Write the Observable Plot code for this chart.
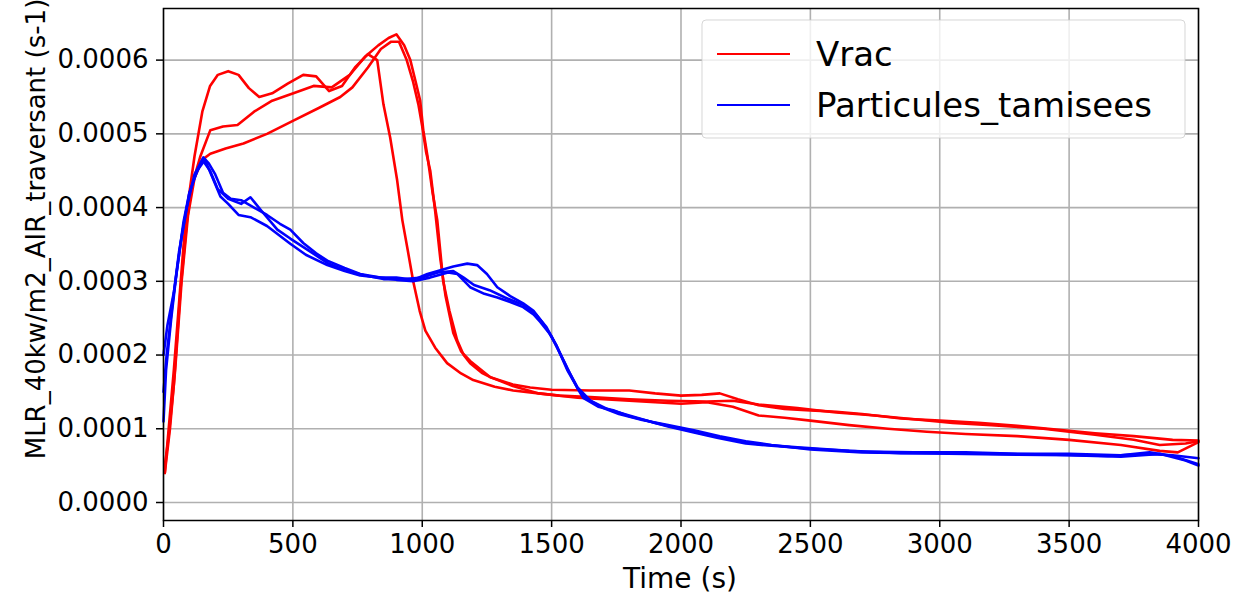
<!DOCTYPE html>
<html><head><meta charset="utf-8">
<script src="https://cdn.jsdelivr.net/npm/d3@7"></script>
<script src="https://cdn.jsdelivr.net/npm/@observablehq/plot@0.6"></script>
<style>body{margin:0;background:#fff} #chart{width:1246px;height:600px}</style>
</head><body><div id="chart"></div>
<script>
const xTicks = [0, 500, 1000, 1500, 2000, 2500, 3000, 3500, 4000];
const yTicks = [0, 0.0001, 0.0002, 0.0003, 0.0004, 0.0005, 0.0006];
const seriesNames = ["Vrac", "Particules_tamisees"];
const xLabel = "Time (s)";
const yLabel = "MLR_40kw/m2_AIR_traversant (s-1)";

// Vrac runs [time (s), MLR]
const vrac1 = [[5,0.00004],[20,0.00010],[40,0.00018],[60,0.00027],[80,0.00036],[100,0.00042],[120,0.00047],[150,0.00053],[180,0.000565],[210,0.00058],[250,0.000585],[290,0.00058],[330,0.000562],[370,0.00055],[420,0.000555],[480,0.000568],[540,0.00058],[590,0.000578],[640,0.000558],[690,0.000565],[740,0.00059],[790,0.000608],[826,0.0006],[850,0.00054],[876,0.000495],[903,0.000437],[923,0.000383],[945,0.00034],[965,0.0003],[990,0.00026],[1012,0.000233],[1050,0.00021],[1096,0.000189],[1150,0.000175],[1197,0.000166],[1280,0.000157],[1351,0.000152],[1450,0.000148],[1530,0.000145],[1650,0.000143],[1800,0.00014],[1950,0.000138],[2100,0.000137],[2200,0.000138],[2300,0.000133],[2450,0.000128],[2600,0.000122],[2750,0.000118],[2900,0.000113],[3050,0.000108],[3200,0.000105],[3400,0.0001],[3600,0.000092],[3750,0.000085],[3850,0.000078],[3950,0.00008],[4000,0.000083]];
const vrac2 = [[5,0.00005],[20,0.00009],[40,0.00016],[66,0.00029],[90,0.00038],[110,0.00043],[143,0.00047],[181,0.000505],[230,0.00051],[286,0.000512],[350,0.00053],[420,0.000545],[502,0.000555],[580,0.000565],[650,0.000563],[720,0.00058],[780,0.000605],[830,0.00062],[870,0.00063],[900,0.000635],[930,0.00062],[954,0.0006],[975,0.00057],[992,0.000545],[1004,0.000505],[1020,0.00047],[1040,0.00042],[1058,0.000383],[1081,0.0003],[1105,0.00026],[1135,0.00022],[1160,0.0002],[1185,0.000189],[1230,0.000176],[1263,0.00017],[1350,0.00016],[1417,0.000156],[1500,0.000153],[1650,0.000152],[1800,0.000152],[1900,0.000148],[2000,0.000145],[2080,0.000146],[2150,0.000148],[2220,0.00014],[2300,0.000132],[2400,0.000127],[2500,0.000125],[2600,0.000123],[2700,0.00012],[2850,0.000114],[3000,0.000111],[3150,0.000108],[3300,0.000104],[3450,0.000099],[3600,0.000094],[3750,0.00009],[3900,0.000085],[4000,0.000084]];
const vrac3 = [[5,0.00004],[25,0.0001],[45,0.00018],[70,0.0003],[95,0.00039],[120,0.00044],[150,0.000465],[181,0.000473],[240,0.00048],[309,0.000487],[400,0.0005],[502,0.000518],[600,0.000535],[683,0.00055],[730,0.000563],[790,0.00059],[840,0.000615],[880,0.000625],[910,0.000625],[940,0.0006],[965,0.00057],[985,0.00054],[1000,0.00051],[1015,0.000475],[1031,0.00045],[1050,0.000395],[1070,0.00033],[1090,0.00028],[1120,0.00023],[1150,0.000205],[1185,0.000192],[1263,0.00017],[1350,0.000158],[1450,0.000148],[1600,0.000142],[1800,0.000138],[2000,0.000134],[2100,0.000136],[2200,0.00013],[2300,0.000118],[2400,0.000115],[2500,0.000111],[2650,0.000105],[2800,0.0001],[2950,0.000096],[3100,0.000093],[3300,0.00009],[3500,0.000085],[3700,0.000078],[3850,0.00007],[3920,0.000068],[4000,0.000082]];

// Particules_tamisees runs [time (s), MLR]
const tamis1 = [[0,0.00011],[10,0.00018],[30,0.00025],[50,0.00031],[77,0.00038],[100,0.00042],[125,0.000445],[154,0.000468],[175,0.00046],[200,0.000445],[230,0.00042],[260,0.000412],[300,0.00041],[350,0.0004],[400,0.00039],[450,0.000378],[490,0.00037],[540,0.000352],[590,0.000338],[633,0.000328],[700,0.000318],[760,0.00031],[838,0.000305],[900,0.000305],[965,0.000302],[1020,0.00031],[1070,0.000315],[1120,0.00032],[1174,0.000324],[1212,0.000322],[1250,0.00031],[1290,0.000292],[1340,0.00028],[1390,0.00027],[1430,0.00026],[1467,0.000243],[1500,0.000225],[1521,0.00021],[1550,0.00019],[1571,0.000175],[1600,0.000155],[1622,0.000142],[1680,0.00013],[1738,0.000125],[1800,0.000117],[1869,0.000111],[1950,0.000103],[2050,0.000095],[2139,0.000088],[2250,0.00008],[2350,0.000077],[2500,0.000073],[2700,0.000069],[2900,0.000068],[3100,0.000068],[3300,0.000066],[3500,0.000066],[3700,0.000064],[3811,0.000068],[3900,0.000063],[4000,0.000052]];
const tamis2 = [[0,0.0002],[15,0.00024],[40,0.000285],[70,0.00036],[100,0.00042],[130,0.00045],[160,0.000465],[190,0.00044],[220,0.000415],[250,0.000405],[290,0.00039],[336,0.000387],[400,0.000375],[490,0.000351],[550,0.000336],[633,0.000322],[700,0.000314],[760,0.000308],[838,0.000305],[900,0.000302],[965,0.0003],[1030,0.000305],[1100,0.000312],[1135,0.00031],[1185,0.000292],[1240,0.000283],[1290,0.000278],[1340,0.000272],[1390,0.000265],[1430,0.000255],[1456,0.000245],[1490,0.00023],[1520,0.000212],[1560,0.00018],[1600,0.000155],[1640,0.00014],[1700,0.000128],[1760,0.00012],[1850,0.000112],[1950,0.000105],[2050,0.000098],[2150,0.00009],[2250,0.000083],[2350,0.000078],[2500,0.000072],[2700,0.000068],[2900,0.000067],[3100,0.000066],[3300,0.000065],[3500,0.000064],[3700,0.000062],[3850,0.000066],[3950,0.000057],[4000,0.00005]];
const tamis3 = [[0,0.00015],[12,0.0002],[35,0.00027],[60,0.00034],[90,0.0004],[120,0.000445],[150,0.000465],[180,0.00045],[210,0.000425],[250,0.000412],[300,0.000405],[336,0.000414],[380,0.000395],[440,0.00037],[490,0.000358],[560,0.000342],[633,0.000325],[700,0.000315],[780,0.000308],[850,0.000303],[930,0.000303],[1000,0.000305],[1060,0.000312],[1120,0.000314],[1160,0.000305],[1200,0.000295],[1260,0.000288],[1320,0.000278],[1390,0.000268],[1440,0.000255],[1480,0.000238],[1520,0.000212],[1560,0.000182],[1600,0.000156],[1650,0.000138],[1720,0.000126],[1800,0.000118],[1900,0.000108],[2000,0.0001],[2100,0.000092],[2200,0.000085],[2300,0.000079],[2450,0.000075],[2650,0.00007],[2850,0.000067],[3050,0.000067],[3250,0.000066],[3450,0.000065],[3650,0.000063],[3800,0.000066],[3900,0.000064],[4000,0.00006]];

const rows = [];
function addRun(arr, group, run) { for (const [t, v] of arr) rows.push({t, v, group, run}); }
addRun(vrac1, "Vrac", "v1"); addRun(vrac2, "Vrac", "v2"); addRun(vrac3, "Vrac", "v3");
addRun(tamis1, "Particules_tamisees", "t1"); addRun(tamis2, "Particules_tamisees", "t2"); addRun(tamis3, "Particules_tamisees", "t3");

const colors = ["#ff0000", "#0000ff"];

const svg = Plot.plot({
  width: 1246, height: 600,
  marginLeft: 163, marginRight: 48, marginTop: 8, marginBottom: 80,
  style: {fontFamily: "DejaVu Sans", fontSize: "26px", color: "black", background: "white"},
  x: {domain: [0, 4000]},
  y: {domain: [-0.0000244, 0.00067]},
  color: {domain: seriesNames, range: colors},
  marks: [
    Plot.gridX(xTicks, {stroke: "#b0b0b0", strokeOpacity: 1, strokeWidth: 1.6}),
    Plot.gridY(yTicks, {stroke: "#b0b0b0", strokeOpacity: 1, strokeWidth: 1.6}),
    Plot.line(rows, {x: "t", y: "v", z: "run", stroke: "group", strokeWidth: 2.6}),
    Plot.axisX(xTicks, {tickSize: 7, tickPadding: 7, fontSize: 26, label: null, tickFormat: d => String(d), strokeWidth: 1.5}),
    Plot.axisY(yTicks, {tickSize: 7, tickPadding: 8, fontSize: 26, label: null, tickFormat: d3.format(".4f"), strokeWidth: 1.5}),
    Plot.frame({stroke: "black", strokeWidth: 1.5})
  ]
});
document.getElementById("chart").appendChild(svg);

const s = d3.select(svg);
// axis labels
s.append("text").attr("x", 680).attr("y", 588).attr("text-anchor", "middle")
  .attr("font-size", 28).attr("fill", "black").text(xLabel);
s.append("text").attr("transform", "translate(45,229) rotate(-90)").attr("text-anchor", "middle")
  .attr("font-size", 26).attr("fill", "black").text(yLabel);

// legend
const lg = s.append("g");
lg.append("rect").attr("x", 702).attr("y", 20).attr("width", 483).attr("height", 118).attr("rx", 4)
  .attr("fill", "white").attr("fill-opacity", 0.8).attr("stroke", "#cccccc").attr("stroke-opacity", 0.8);
seriesNames.forEach((name, i) => {
  const y = 54 + i * 51;
  lg.append("line").attr("x1", 717).attr("x2", 790).attr("y1", y).attr("y2", y)
    .attr("stroke", colors[i]).attr("stroke-width", 2);
  lg.append("text").attr("x", 816).attr("y", y + 12).attr("text-anchor", "start")
    .attr("font-size", 34).attr("fill", "black").text(name);
});
</script>
</body></html>
